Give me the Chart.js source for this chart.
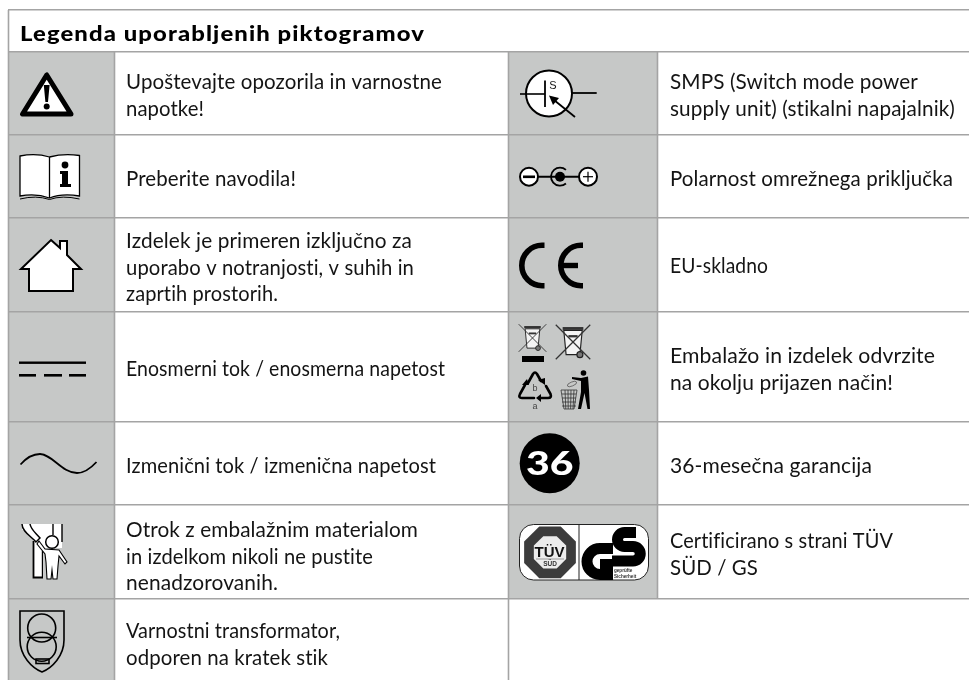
<!DOCTYPE html>
<html><head><meta charset="utf-8">
<style>html,body{margin:0;padding:0;background:#fff}canvas{display:block}</style>
<script src="https://cdn.jsdelivr.net/npm/chart.js@4/dist/chart.umd.min.js"></script>
</head><body>
<canvas id="c" width="969" height="680"></canvas>
<script>
const title = "Legenda uporabljenih piktogramov";
const leftLabels = [
  ["Upoštevajte opozorila in varnostne","napotke!"],
  ["Preberite navodila!"],
  ["Izdelek je primeren izključno za","uporabo v notranjosti, v suhih in","zaprtih prostorih."],
  ["Enosmerni tok / enosmerna napetost"],
  ["Izmenični tok / izmenična napetost"],
  ["Otrok z embalažnim materialom","in izdelkom nikoli ne pustite","nenadzorovanih."],
  ["Varnostni transformator,","odporen na kratek stik"]
];
const rightLabels = [
  ["SMPS (Switch mode power","supply unit) (stikalni napajalnik)"],
  ["Polarnost omrežnega priključka"],
  ["EU-skladno"],
  ["Embalažo in izdelek odvrzite","na okolju prijazen način!"],
  ["36-mesečna garancija"],
  ["Certificirano s strani TÜV","SÜD / GS"]
];
const rowEdges = [10,52,135,218,312,422,505,599,680];
const colEdges = [8,114,508,657,969];
// layout only: baselines and measured text run widths
const leftBaselines = [89,186,248,376,473,537,638];
const rightBaselines = [89,186,273,363,473,548];
const leftFit = [[316,78],[170],[286,288,152],[319],[310],[292,247,152],[214,202]];
const rightFit = [[248,285],[283],[98],[265,223],[202],[223,88]];

const INK="#141414", GRAY="#c6c8c7", RULE="#a4a4a4";
const FONT='Lato';

function path(c,pts,close){c.beginPath();pts.forEach((p,i)=>i?c.lineTo(p[0],p[1]):c.moveTo(p[0],p[1]));if(close)c.closePath();}
function circ(c,x,y,r,fill,stroke,lw){c.beginPath();c.arc(x,y,r,0,Math.PI*2);if(fill){c.fillStyle=fill;c.fill();}if(stroke){c.strokeStyle=stroke;c.lineWidth=lw;c.stroke();}}
function bins(c,x0,y0,s){
  c.save();c.translate(x0,y0);c.scale(s,s);
  c.fillStyle="#f4f4f4";path(c,[[-8,-10],[8,-10],[6,11],[-6,11]],true);c.fill();
  c.strokeStyle="#222";c.lineWidth=1;c.stroke();
  c.fillStyle="#333";c.fillRect(-9,-13,18,2.5);
  c.fillRect(-4,-6,8,2);
  circ(c,6,11,2.6,"#777","#222",1);
  c.strokeStyle="#333";c.lineWidth=1;
  path(c,[[-15,-15],[15,15]]);c.stroke();path(c,[[15,-15],[-15,15]]);c.stroke();
  c.restore();
}
function drawIcons(c){
  c.lineCap="butt";c.lineJoin="miter";
  // warning
  c.lineJoin="round";c.fillStyle="#fff";c.strokeStyle="#000";c.lineWidth=5;
  path(c,[[46.7,75],[22.6,114],[71,114]],true);c.fill();c.stroke();
  c.fillStyle="#000";path(c,[[43.8,85],[49.6,85],[48,102],[45.4,102]],true);c.fill();
  circ(c,46.7,106.5,3,"#000");
  // book
  c.lineJoin="miter";c.fillStyle="#fff";c.strokeStyle="#000";c.lineWidth=1.3;
  c.beginPath();c.moveTo(20,156);c.quadraticCurveTo(36,153,49.5,157);c.quadraticCurveTo(64,153,79.5,155.5);c.lineTo(79.5,196);c.quadraticCurveTo(62,193,49.5,198);c.quadraticCurveTo(36,193,20,196);c.closePath();c.fill();c.stroke();
  path(c,[[49.5,157],[49.5,198]]);c.stroke();
  c.lineWidth=1;c.beginPath();c.moveTo(20,199);c.quadraticCurveTo(36,195,49.5,199.5);c.quadraticCurveTo(62,195,79.5,199);c.stroke();
  c.fillStyle="#000";circ(c,65,165,3.4,"#000");
  c.fillRect(60,171,8,3);c.fillRect(62,171,6,14);c.fillRect(60,184,11,3);
  // house
  c.fillStyle="#fff";c.strokeStyle="#000";c.lineWidth=2;
  path(c,[[51,240],[60,248],[60,241],[67,241],[67,255],[81,269],[73,269],[73,291],[29,291],[29,269],[21,269]],true);c.fill();c.stroke();
  // dc
  c.fillStyle="#000";c.fillRect(19,361.5,67,2.4);
  [[19,36],[44,62],[69,86]].forEach(d=>c.fillRect(d[0],374,d[1]-d[0],2.6));
  // ac
  c.lineWidth=1.8;c.beginPath();c.moveTo(20.5,464.5);c.bezierCurveTo(28,456,34,454,40,454);c.bezierCurveTo(52,454,62,473,77,473);c.bezierCurveTo(85,473,91,468,96.5,462);c.stroke();
  // child
  c.fillStyle="#fff";
  path(c,[[33,524],[62,524],[62,548],[44,548],[44,578],[33,578]],true);c.fill();
  c.fillRect(22,524,12,6);
  c.strokeStyle="#000";c.lineWidth=1.8;
  path(c,[[33.5,541],[33.5,577.5],[43,577.5]]);c.stroke();
  c.lineWidth=1.4;
  path(c,[[42.5,551],[42.5,578]]);c.stroke();
  path(c,[[62,524],[62,542]]);c.stroke();
  path(c,[[53,524],[53,535]]);c.stroke();
  c.fillStyle="#fff";c.lineWidth=1.5;
  c.beginPath();c.moveTo(22,524);c.bezierCurveTo(22,532,32,537,36,542);c.lineTo(40,538);c.bezierCurveTo(36,533,31,530,30,524);c.fill();c.stroke();
  c.lineWidth=1.1;
  path(c,[[39,541],[45,549],[59,550],[67,562],[65,564],[59,556],[58,566],[57,579],[53,579],[52,570],[51,579],[47,579],[46,562],[45,554],[37,544]],true);c.fill();c.stroke();
  circ(c,52,542,6.3,"#fff","#000",1.5);
  // shield
  c.strokeStyle="#000";c.lineWidth=1.6;
  c.beginPath();c.moveTo(20,611);c.lineTo(64,611);c.lineTo(64,640);c.bezierCurveTo(64,656,52,668,42,672);c.bezierCurveTo(32,668,20,656,20,640);c.closePath();c.stroke();
  circ(c,41.7,628,14,null,"#000",1.6);circ(c,41.7,646.7,14.5,null,"#000",1.6);
  path(c,[[27,637.5],[57,637.5]]);c.stroke();
  c.strokeRect(36,659,13,4.5);
  // smps
  circ(c,549,93.5,23,"#fff","#000",2);
  c.lineWidth=1.6;path(c,[[520,94],[545,94]]);c.stroke();
  c.lineWidth=1.8;path(c,[[545,80.5],[545,107]]);c.stroke();
  c.lineWidth=1.8;path(c,[[572,93],[596.7,93]]);c.stroke();
  path(c,[[575,117],[554,100]]);c.stroke();
  c.fillStyle="#000";path(c,[[549,95.5],[559,98],[553,105]],true);c.fill();
  c.fillStyle=INK;c.font="11px 'Liberation Sans'";c.textAlign="center";c.fillText("S",553,89);
  // polarity
  c.strokeStyle="#000";c.lineWidth=2;
  path(c,[[538,176.7],[579,176.7]]);c.stroke();
  circ(c,529,176.7,9,"#fff","#000",2);c.fillStyle="#000";c.fillRect(523,175.5,12,2.6);
  circ(c,588,176.7,9,"#fff","#000",2);c.lineWidth=1.2;path(c,[[583,176.7],[593,176.7]]);c.stroke();path(c,[[588,171.7],[588,181.7]]);c.stroke();
  c.lineWidth=1.8;c.beginPath();c.arc(560,176.7,9,0.85,-0.85+Math.PI*2);c.stroke();
  circ(c,560,176.7,5,"#000");
  // CE
  c.lineWidth=5.6;c.strokeStyle="#000";
  c.beginPath();c.moveTo(544.5,245.3);c.lineTo(542,245.3);c.arc(542,265.5,20.2,-Math.PI/2,Math.PI/2,true);c.lineTo(544.5,285.7);c.stroke();
  c.beginPath();c.moveTo(583,245.3);c.lineTo(581,245.3);c.arc(581,265.5,20.2,-Math.PI/2,Math.PI/2,true);c.lineTo(583,285.7);c.stroke();
  c.fillStyle="#000";c.fillRect(560,262.8,18,5.4);
  // bins
  bins(c,532.5,338,0.92);bins(c,573,342,1.15);
  c.fillStyle="#000";c.fillRect(522,356,22,6);
  // recycle
  c.strokeStyle="#000";c.lineWidth=2.6;c.lineJoin="round";c.lineCap="round";
  c.beginPath();c.moveTo(528,383);c.lineTo(533,374);c.quadraticCurveTo(535,371,537,374);c.lineTo(541,381);c.stroke();
  c.beginPath();c.moveTo(546,386);c.lineTo(550.5,394);c.quadraticCurveTo(552,398,548,398);c.lineTo(541,398);c.stroke();
  c.beginPath();c.moveTo(534,398);c.lineTo(522,398);c.quadraticCurveTo(518,398,520,394);c.lineTo(525,385);c.stroke();
  c.lineCap="butt";c.fillStyle="#000";
  path(c,[[538,380],[545,378],[545,385]],true);c.fill();
  path(c,[[522,385],[529,385],[527,379]],true);c.fill();
  path(c,[[541,394],[536,398],[541,402]],true);c.fill();
  c.fillStyle="#444";c.font="9px 'Liberation Sans'";c.textAlign="center";
  c.fillText("b",535,391);c.fillText("a",535,409);
  // litter
  c.strokeStyle="#333";c.lineWidth=.8;c.lineJoin="miter";
  path(c,[[561,390],[577,390],[574,409],[564,409]],true);c.stroke();
  [565,568,571,574].forEach(x=>{path(c,[[x,390],[x-(x-569)*.2,409]]);c.stroke();});
  [394,398,402,406].forEach(y=>{path(c,[[562,y],[576,y]]);c.stroke();});
  c.strokeStyle="#555";c.lineWidth=.8;
  c.beginPath();c.ellipse(572,384,5,2,-0.4,0,7);c.stroke();
  circ(c,583.5,373,2.8,"#000");c.fillStyle="#000";
  path(c,[[572,377],[581,378],[588,376.5],[589,390],[590,409],[587.5,409],[584.5,393],[581,409],[578,409],[581,392],[581,381],[572,379]],true);c.fill();
  // 36
  circ(c,549.7,463.3,30,"#000");
  c.save();c.translate(549.7,464.5);c.scale(1.28,1);
  c.fillStyle="#fff";c.font="900 32px Lato";c.textAlign="center";c.textBaseline="middle";c.fillText("36",0,0);c.restore();
  // TUV GS
  c.fillStyle="#fff";c.strokeStyle="#222";c.lineWidth=1;c.beginPath();c.roundRect(519.5,524.5,129,55.5,14);c.fill();c.stroke();
  path(c,[[579,524.5],[579,580]]);c.lineWidth=1;c.stroke();
  const oct=(x,y,r)=>{const p=[];for(let i=0;i<8;i++){const a=Math.PI/8+i*Math.PI/4;p.push([x+r*Math.cos(a),y+r*Math.sin(a)]);}path(c,p,true);};
  c.fillStyle="#3c3c3c";oct(550,552.3,28);c.fill();
  c.fillStyle="#ececec";oct(550,552.3,17.5);c.fill();
  c.fillStyle="#111";c.font="bold 15px 'Liberation Sans Narrow','Liberation Sans'";c.textAlign="center";c.fillText("TÜV",549.5,557);
  c.fillStyle="#999";c.fillRect(536,558.5,28,1);
  c.fillStyle="#333";c.font="bold 6.5px 'Liberation Sans'";c.fillText("SÜD",550,566);
  c.save();c.beginPath();c.roundRect(519.5,524.5,129,55.5,14);c.clip();
  c.strokeStyle="#000";c.lineWidth=11;c.lineCap="butt";c.lineJoin="round";
  c.beginPath();c.moveTo(613,548.5);c.lineTo(600,548.5);c.arc(600,561.5,13,-Math.PI/2,Math.PI/2,true);c.lineTo(606,574.5);c.stroke();
  c.fillStyle="#000";c.fillRect(600,559,13,21);
  c.beginPath();c.moveTo(636,532.5);c.lineTo(624.5,532.5);c.arc(624.5,539.5,7,-Math.PI/2,Math.PI/2,true);c.lineTo(633,546.5);c.arc(633,553.75,7.25,-Math.PI/2,Math.PI/2,false);c.lineTo(612,561);c.stroke();
  c.restore();
  c.fillStyle="#333";c.font="bold 4.6px 'Liberation Sans'";c.textAlign="left";c.fillText("geprüfte",614,572);c.fillText("Sicherheit",614,578);
  c.textAlign="left";c.lineCap="butt";c.lineJoin="miter";
}
function drawFit(c,t,x,y,w){
  c.save();c.translate(x,y);c.scale(w/c.measureText(t).width,1);c.fillText(t,0,0);c.restore();
}
function drawLines(c,x,list,baselines,fit){
  c.fillStyle=INK;c.font="400 21.5px "+FONT;c.textAlign="left";c.letterSpacing="0.1px";
  list.forEach((lines,i)=>lines.forEach((t,j)=>drawFit(c,t,x,baselines[i]+j*26.7,fit[i][j])));
  c.letterSpacing="0px";
}
const tablePlugin={
  id:"table",
  beforeDatasetsDraw(ch){
    const c=ch.ctx,X=ch.scales.x,Y=ch.scales.y;
    c.save();c.fillStyle=GRAY;
    const px=X.getPixelForValue.bind(X),py=Y.getPixelForValue.bind(Y);
    c.fillRect(px(colEdges[0]),py(rowEdges[1]),px(colEdges[1])-px(colEdges[0]),py(680)-py(rowEdges[1]));
    c.fillRect(px(colEdges[2]),py(rowEdges[1]),px(colEdges[3])-px(colEdges[2]),py(rowEdges[7])-py(rowEdges[1]));
    c.restore();
  },
  afterDraw(ch){
    const c=ch.ctx,X=ch.scales.x,Y=ch.scales.y;
    const px=X.getPixelForValue.bind(X),py=Y.getPixelForValue.bind(Y);
    c.save();
    c.strokeStyle=RULE;c.lineWidth=1.6;
    [[colEdges[0],rowEdges[0],680],[colEdges[1],rowEdges[1],680],[colEdges[2],rowEdges[1],680],[colEdges[3],rowEdges[1],rowEdges[7]]].forEach(v=>{
      c.beginPath();c.moveTo(px(v[0])+.5,py(v[1]));c.lineTo(px(v[0])+.5,py(v[2]));c.stroke();
    });
    c.fillStyle="#000";c.font="900 21.5px Lato";c.textAlign="left";c.letterSpacing="1px";
    drawFit(c,title,20,40.7,405);
    c.letterSpacing="0px";
    drawLines(c,126,leftLabels,leftBaselines,leftFit);
    drawLines(c,670,rightLabels,rightBaselines,rightFit);
    drawIcons(c);
    c.restore();
  }
};
new Chart(document.getElementById("c"),{
  type:"scatter",
  data:{datasets:[{data:[],showLine:false}]},
  plugins:[tablePlugin],
  options:{
    responsive:false,animation:false,
    layout:{padding:{left:8,top:10,right:0,bottom:0}},
    plugins:{legend:{display:false},tooltip:{enabled:false},title:{display:false}},
    scales:{
      x:{type:"linear",display:false,min:8,max:969},
      y:{type:"linear",reverse:true,min:10,max:680,
        afterBuildTicks(s){s.ticks=rowEdges.slice(0,-1).map(v=>({value:v}));},
        border:{display:false},
        ticks:{display:false},
        grid:{color:RULE,lineWidth:1.6,drawTicks:false,z:1}
      }
    }
  }
});
</script>
</body></html>
